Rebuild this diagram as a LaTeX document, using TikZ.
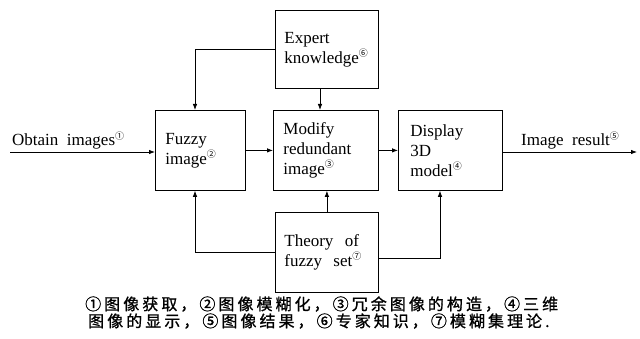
\documentclass[tikz,border=0pt]{standalone}
\usepackage{fontspec}
\setmainfont{Liberation Serif}
\newfontfamily\cjk{Noto Sans CJK SC}
\newfontfamily\cjkcap[LetterSpace=19,FakeBold=1]{Noto Sans CJK SC}
\usetikzlibrary{arrows.meta}
\newcommand\cir[1]{\raisebox{0.85ex}{\fontsize{9}{9}\selectfont\cjk #1}}
\begin{document}
\begin{tikzpicture}[x=1pt,y=-1pt,
  box/.style={draw,line width=0.8pt,align=left,inner ysep=0pt,anchor=north west,
              font=\fontsize{17}{20}\selectfont},
  conn/.style={line width=0.8pt,-{Latex[length=6pt,width=4.5pt]}},
  lbl/.style={font=\fontsize{17}{20}\selectfont,inner sep=0pt,anchor=base west},
  captext/.style={font=\fontsize{16}{18}\selectfont\cjkcap,inner sep=0pt,anchor=base west}]
\useasboundingbox (0,0) rectangle (640,339);

% boxes
\node[box,text width=70pt,inner xsep=10pt,minimum height=80pt] (fuzzy) at (155,110) {Fuzzy\\image\cir{②}};
\node[box,text width=85pt,inner xsep=10pt,minimum height=80pt] (modify) at (273,110) {Modify\\redundant\\image\cir{③}};
\node[box,text width=80pt,inner xsep=12pt,minimum height=80pt] (display) at (398,110) {Display\\3D\\model\cir{④}};
\node[box,text width=85pt,inner xsep=9pt,minimum height=78pt] (expert) at (275,10) {Expert\\knowledge\cir{⑥}};
\node[box,text width=85pt,inner xsep=9pt,minimum height=80pt] (theory) at (275,212) {Theory\ \ of\\fuzzy\ \ set\cir{⑦}};

% input / output labels
\node[lbl] (obt) at (12,146) {Obtain\ \ images\cir{①}};
\node[lbl] (res) at (521,146) {Image\ \ result\cir{⑤}};
\coordinate (in) at (10,152);
\coordinate (out) at (637,152);

% helper coordinates
\coordinate (fx) at (195,0);
\coordinate (mx) at (320,0);
\coordinate (dx) at (440,258);

% main chain
\draw[conn] (in) -- (in -| fuzzy.west);
\draw[conn] (fuzzy) -- (modify);
\draw[conn] (modify) -- (display);
\draw[conn] (display.east |- out) -- (out);

% expert knowledge
\draw[conn] (expert.west) -- (expert.west -| fx) -- (fx |- fuzzy.north);
\draw[conn] (expert.south -| mx) -- (mx |- modify.north);

% theory of fuzzy set
\draw[conn] (theory.west) -- (theory.west -| fx) -- (fx |- fuzzy.south);
\draw[conn] (theory.north) -- (theory.north |- modify.south);
\draw[conn] (theory.east |- dx) -- (dx) -- (dx |- display.south);

% caption
\node[captext] (c1) at (85,310) {①图像获取，②图像模糊化，③冗余图像的构造，④三维};
\node[captext] (c2) at (88,327) {图像的显示，⑤图像结果，⑥专家知识，⑦模糊集理论.};
\end{tikzpicture}
\end{document}
